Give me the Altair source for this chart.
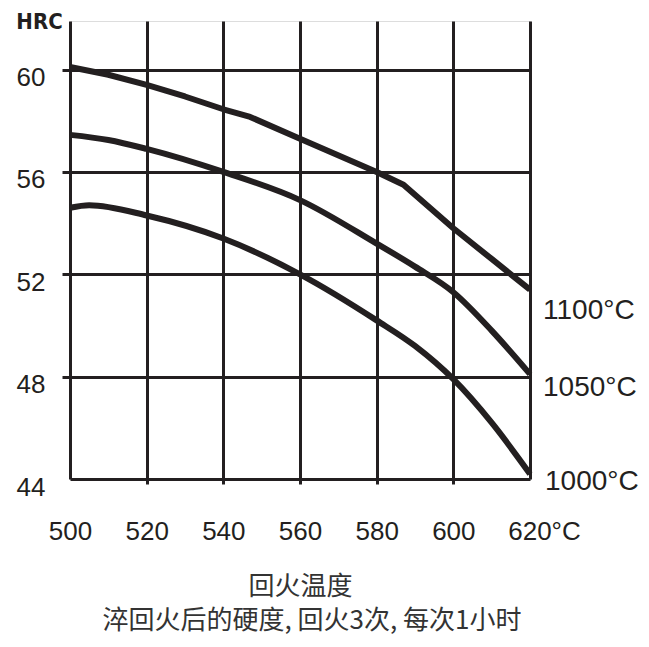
import altair as alt
import pandas as pd

# Tempering curves: hardness (HRC) vs tempering temperature (°C)
temps_1100 = [500, 510, 520, 530, 540, 547, 560, 580, 587, 600, 610, 620]
hrc_1100 = [60.1, 59.8, 59.4, 58.95, 58.45, 58.15, 57.3, 56.0, 55.5, 53.8, 52.6, 51.4]

temps_1050 = [500, 510, 520, 540, 560, 580, 590, 600, 610, 620]
hrc_1050 = [57.45, 57.25, 56.9, 56.0, 54.9, 53.2, 52.3, 51.3, 49.8, 48.1]

temps_1000 = [500, 505, 520, 540, 560, 580, 590, 600, 610, 620]
hrc_1000 = [54.6, 54.7, 54.3, 53.4, 52.0, 50.2, 49.2, 47.9, 46.2, 44.2]

series_names = ["1100", "1050", "1000"]
series_labels = ["1100°C", "1050°C", "1000°C"]

x_ticks = [500, 520, 540, 560, 580, 600, 620]
y_ticks = [44, 48, 52, 56, 60]

x_title = "回火温度"
subtitle = "淬回火后的硬度, 回火3次, 每次1小时"

rows = []
for name, lab, ts, hs in zip(series_names, series_labels,
                             [temps_1100, temps_1050, temps_1000],
                             [hrc_1100, hrc_1050, hrc_1000]):
    for t, h in zip(ts, hs):
        rows.append({"series": name, "label": lab, "temp": t, "hrc": h})
df = pd.DataFrame(rows)

INK = "#231f20"
LABEL_FONT = "Liberation Sans"

x = alt.X(
    "temp:Q",
    scale=alt.Scale(domain=[500, 620], nice=False, zero=False),
    axis=alt.Axis(
        values=x_ticks,
        grid=True, gridColor=INK, gridWidth=3, gridOpacity=1,
        domain=False,
        tickSize=5, tickWidth=3, tickColor=INK,
        tickOpacity={"condition": {"test": "datum.value == 500 || datum.value == 620", "value": 0}, "value": 1},
        labelFont=LABEL_FONT, labelFontSize=26, labelColor=INK, labelPadding=34,
        labelExpr="datum.value == 620 ? '620°C' : datum.label",
        labelOffset={"condition": {"test": "datum.value == 620", "value": 14}, "value": 0},
        labelFlush=False, labelOverlap=False,
        title=x_title, titleFont="Noto Sans CJK SC", titleFontSize=26,
        titleFontWeight="normal", titleColor="#333333", titlePadding=29,
    ),
)
y = alt.Y(
    "hrc:Q",
    scale=alt.Scale(domain=[44, 61.9], nice=False, zero=False),
    axis=alt.Axis(
        values=y_ticks,
        grid=True, gridColor=INK, gridWidth=3, gridOpacity=1,
        domain=False,
        tickSize=8, tickWidth=3, tickColor=INK,
        tickOpacity={"condition": {"test": "datum.value == 44", "value": 0}, "value": 1},
        labelFont=LABEL_FONT, labelFontSize=26, labelColor=INK, labelPadding=17,
        labelOffset=8, labelFlush=False, labelOverlap=False,
        title="HRC", titleAngle=0, titleX=-31, titleY=0,
        titleAlign="center", titleBaseline="middle",
        titleFont="Liberation Sans Narrow, Arial Narrow, DejaVu Sans Condensed, sans-serif",
        titleFontWeight="bold", titleFontSize=22, titleColor=INK,
    ),
)

base = alt.Chart(df)

line_straight = base.transform_filter("datum.series == '1100'").mark_line(
    color=INK, strokeWidth=6, interpolate="linear", strokeJoin="round"
).encode(x=x, y=y)

line_smooth = base.transform_filter("datum.series != '1100'").mark_line(
    color=INK, strokeWidth=6, interpolate="monotone"
).encode(x=x, y=y, detail="series:N")

label_offsets = {"1100": (13, 21), "1050": (13, 14), "1000": (15, 8)}
label_layers = []
for name in series_names:
    dx, dy = label_offsets[name]
    label_layers.append(
        base.transform_filter(f"datum.series == '{name}' && datum.temp == 620").mark_text(
            align="left", baseline="middle", dx=dx, dy=dy,
            font=LABEL_FONT, fontSize=28, color=INK,
        ).encode(x=x, y=y, text="label:N")
    )

chart = alt.layer(line_straight, line_smooth, *label_layers).properties(
    width=460, height=458,
    autosize=alt.AutoSizeParams(type="none"),
    padding={"left": 62, "top": 13, "right": 111, "bottom": 160},
    title=alt.TitleParams(
        subtitle, orient="bottom", anchor="middle", dx=12, offset=9,
        font="Noto Sans CJK SC", fontSize=26, fontWeight="normal", color="#333333",
    ),
).configure_view(
    stroke=INK, strokeWidth=3
).configure(background="white")

chart.save("out.html", embed_options={"renderer": "svg", "actions": False})
